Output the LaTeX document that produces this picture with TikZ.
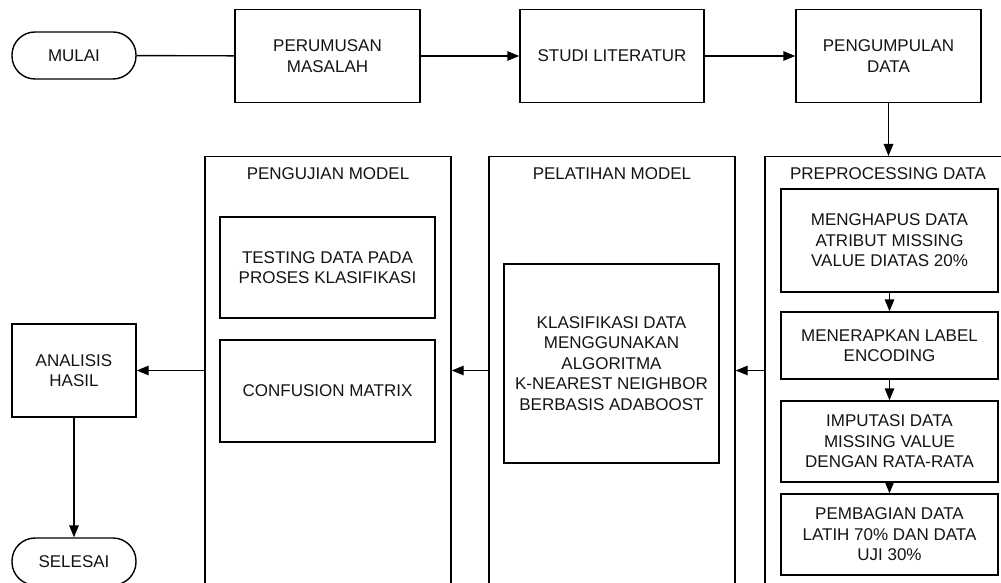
\documentclass[tikz,border=0pt]{standalone}
\usepackage{fontspec}
\setmainfont{Liberation Sans}
\usetikzlibrary{arrows.meta}
\newcommand\diagfont{\fontsize{17}{20.5}\selectfont}
\begin{document}
\begin{tikzpicture}[x=1pt,y=-1pt,
  box/.style={draw, line width=1.4pt, align=center, inner sep=0pt, font=\diagfont, text=black!92},
  pill/.style={box, rounded corners=23pt, minimum width=124pt, minimum height=47pt},
  container/.style={draw, line width=1.4pt, inner sep=0pt, minimum width=246pt, minimum height=470pt, anchor=north},
  title/.style={font=\diagfont, text=black!92, inner sep=0pt},
  conn/.style={line width=1.4pt},
  arr/.style={conn, -{Triangle[length=12pt,width=9.5pt]}}]
\useasboundingbox (0,0) rectangle (1001,583);
\clip (0,0) rectangle (1001,583);
\fill[white] (0,0) rectangle (1001,583);

% top row
\node[pill] (mulai) at (74,55.5) {MULAI};
\node[box, minimum width=185pt, minimum height=93pt] (per) at (327.5,56) {PERUMUSAN\\MASALAH};
\node[box, minimum width=184pt, minimum height=93pt] (stu) at (612,56) {STUDI LITERATUR};
\node[box, minimum width=185pt, minimum height=93pt] (peng) at (888.5,56) {PENGUMPULAN\\DATA};

% containers
\node[container] (pre) at (888,156) {};
\node[title] (pretitle) at (888,174) {PREPROCESSING DATA};
\node[container] (pel) at (612,156) {};
\node[title] (peltitle) at (612,174) {PELATIHAN MODEL};
\node[container] (uji) at (328,156) {};
\node[title] (ujititle) at (328,174) {PENGUJIAN MODEL};

% preprocessing steps
\node[box, minimum width=217pt, minimum height=103pt] (p1) at (889.5,240.5) {MENGHAPUS DATA\\ATRIBUT MISSING\\VALUE DIATAS 20\%};
\node[box, minimum width=217pt, minimum height=67pt] (p2) at (889.5,345.5) {MENERAPKAN LABEL\\ENCODING};
\node[box, minimum width=217pt, minimum height=81pt] (p3) at (889.5,441.5) {IMPUTASI DATA\\MISSING VALUE\\DENGAN RATA-RATA};
\node[box, minimum width=217pt, minimum height=81pt] (p4) at (889.5,534.5) {PEMBAGIAN DATA\\LATIH 70\% DAN DATA\\UJI 30\%};

% training
\node[box, minimum width=215pt, minimum height=199pt] (knn) at (611.5,363.5) {KLASIFIKASI DATA\\MENGGUNAKAN\\ALGORITMA\\K-NEAREST NEIGHBOR\\BERBASIS ADABOOST};

% testing
\node[box, minimum width=215pt, minimum height=101pt] (t1) at (327.5,267.5) {TESTING DATA PADA\\PROSES KLASIFIKASI};
\node[box, minimum width=215pt, minimum height=102pt] (t2) at (327.5,391) {CONFUSION MATRIX};

% analysis and end
\node[box, minimum width=124pt, minimum height=93pt] (ana) at (74,370.5) {ANALISIS\\HASIL};
\node[pill] (sel) at (74,561.5) {SELESAI};

\coordinate (mid) at (0,370.5);

% connectors
\draw[conn] (mulai) -- (per);
\draw[arr] (per) -- (stu);
\draw[arr] (stu) -- (peng);
\draw[arr] (peng.south) -- (peng.south |- pre.north);
\draw[arr] (p1) -- (p2);
\draw[arr] (p2) -- (p3);
\draw[arr] (p3) -- (p4);
\draw[arr] (pre.west |- mid) -- (pel.east |- mid);
\draw[arr] (pel.west |- mid) -- (uji.east |- mid);
\draw[arr] (uji.west |- ana) -- (ana);
\draw[arr] (ana) -- (sel);
\end{tikzpicture}
\end{document}
